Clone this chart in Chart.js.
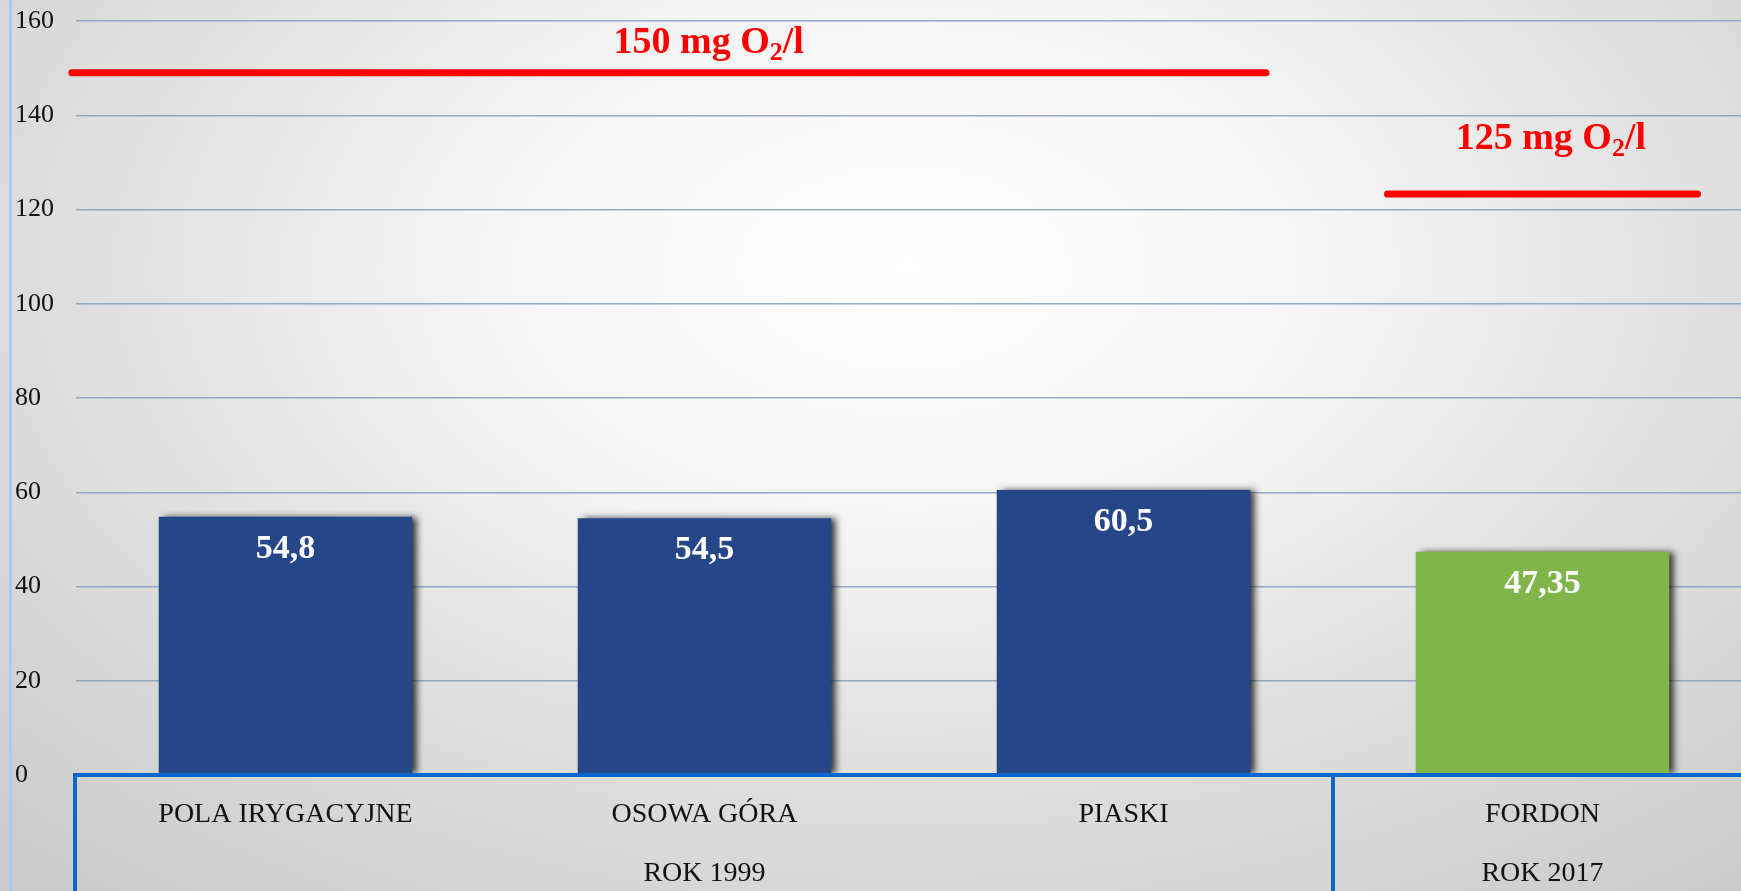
<!DOCTYPE html>
<html lang="pl">
<head>
<meta charset="UTF-8">
<title>ChZT</title>
<script src="https://cdn.jsdelivr.net/npm/chart.js"></script>
<style>
  html, body { margin: 0; padding: 0; overflow: hidden; }
  body {
    width: 1741px; height: 891px;
    background: radial-gradient(ellipse 75% 90% at 52% 30%, #ffffff 0%, #f6f6f6 30%, #e0e0e0 62%, #cbcbcb 100%);
  }
  canvas { display: block; }
</style>
</head>
<body>
<canvas id="chart" width="1752" height="891"></canvas>
<script>
// data
const categories = ['POLA IRYGACYJNE', 'OSOWA GÓRA', 'PIASKI', 'FORDON'];
const values = [54.8, 54.5, 60.5, 47.35];
const barColors = ['#25478a', '#25478a', '#25478a', '#80b54a'];
const groups = ['ROK 1999', 'ROK 2017'];
const groupSpans = [[0, 2], [3, 3]];
const limitLevels = [149, 123.3];
const limitTexts = ['150 mg O', '125 mg O'];
const yTicks = [0, 20, 40, 60, 80, 100, 120, 140, 160];

// where the red lines and their captions sit (category index units / axis values)
const limitSpans = [[-0.51, 2.34], [2.63, 3.37]];
const limitCaptions = [[1.01, 153.2], [3.02, 132.8]];

const serif = '"Liberation Serif", "DejaVu Serif", serif';

function fmt(v) { return String(v).replace('.', ','); }

const extras = {
  id: 'extras',
  beforeDatasetsDraw(chart) {
    const ctx = chart.ctx;
    ctx.save();
    ctx.shadowColor = 'rgba(0,0,0,0.8)';
    ctx.shadowBlur = 7;
    ctx.shadowOffsetX = 5;
    ctx.shadowOffsetY = 0;
  },
  afterDatasetsDraw(chart) {
    const ctx = chart.ctx;
    ctx.restore();
    const x = chart.scales.x, y = chart.scales.y;
    const area = chart.chartArea;

    // value labels inside bars
    const meta = chart.getDatasetMeta(0);
    ctx.save();
    ctx.fillStyle = '#ffffff';
    ctx.font = 'bold 34px ' + serif;
    ctx.textAlign = 'center';
    ctx.textBaseline = 'middle';
    meta.data.forEach((bar, i) => {
      ctx.fillText(fmt(values[i]), bar.x, bar.y + 32);
    });
    ctx.restore();

    // category box
    ctx.save();
    ctx.strokeStyle = '#0a66cc';
    ctx.lineWidth = 4;
    ctx.beginPath();
    ctx.moveTo(area.left - 1, chart.height);
    ctx.lineTo(area.left - 1, area.bottom);
    ctx.lineTo(chart.width, area.bottom);
    const sep = (x.getPixelForValue(2) + x.getPixelForValue(3)) / 2;
    ctx.moveTo(sep, area.bottom);
    ctx.lineTo(sep, chart.height);
    ctx.stroke();

    // thin light frame at the left
    ctx.strokeStyle = '#a6cdf0';
    ctx.lineWidth = 3;
    ctx.beginPath();
    ctx.moveTo(10.5, 0);
    ctx.lineTo(10.5, chart.height);
    ctx.stroke();

    // group labels
    ctx.fillStyle = '#111111';
    ctx.font = '28px ' + serif;
    ctx.textAlign = 'center';
    ctx.textBaseline = 'middle';
    groups.forEach((g, i) => {
      const cx = (x.getPixelForValue(groupSpans[i][0]) + x.getPixelForValue(groupSpans[i][1])) / 2;
      ctx.fillText(g, cx, 874);
    });

    // red limit lines
    ctx.strokeStyle = '#ff0000';
    ctx.lineWidth = 7;
    ctx.lineCap = 'round';
    limitLevels.forEach((lv, i) => {
      const py = y.getPixelForValue(lv);
      ctx.beginPath();
      ctx.moveTo(x.getPixelForValue(limitSpans[i][0]), py);
      ctx.lineTo(x.getPixelForValue(limitSpans[i][1]), py);
      ctx.stroke();
    });

    // captions with subscript
    ctx.fillStyle = '#ff0000';
    ctx.textBaseline = 'alphabetic';
    ctx.textAlign = 'left';
    limitTexts.forEach((t, i) => {
      const big = 'bold 38px ' + serif, small = 'bold 26px ' + serif;
      ctx.font = big;
      const w1 = ctx.measureText(t).width;
      const w3 = ctx.measureText('/l').width;
      ctx.font = small;
      const w2 = ctx.measureText('2').width;
      const total = w1 + w2 + w3;
      let px = x.getPixelForValue(limitCaptions[i][0]) - total / 2;
      const py = y.getPixelForValue(limitCaptions[i][1]);
      ctx.font = big;
      ctx.fillText(t, px, py);
      px += w1;
      ctx.font = small;
      ctx.fillText('2', px, py + 7);
      px += w2;
      ctx.font = big;
      ctx.fillText('/l', px, py);
    });
    ctx.restore();
  }
};

new Chart(document.getElementById('chart'), {
  type: 'bar',
  data: {
    labels: categories,
    datasets: [{
      data: values,
      backgroundColor: barColors,
      borderWidth: 0,
      barPercentage: 0.605,
      categoryPercentage: 1
    }]
  },
  options: {
    responsive: false,
    animation: false,
    devicePixelRatio: 1,
    layout: { padding: { left: 15, top: 21, right: 0, bottom: 0 } },
    plugins: { legend: { display: false }, tooltip: { enabled: false } },
    scales: {
      x: {
        grid: { display: false },
        border: { display: false },
        ticks: {
          color: '#111111',
          font: { family: serif, size: 28 },
          padding: 15,
          maxRotation: 0,
          autoSkip: false
        },
        afterFit(s) { s.height = 116; }
      },
      y: {
        min: 0,
        max: 160,
        afterBuildTicks(s) { s.ticks = yTicks.map(v => ({ value: v })); },
        grid: {
          color: ctx => ctx.tick && ctx.tick.value === 0 ? 'rgba(0,0,0,0)' : 'rgba(135,158,185,0.85)',
          lineWidth: 1.5,
          drawTicks: false
        },
        border: { display: false },
        ticks: {
          color: '#111111',
          font: { family: serif, size: 26 },
          crossAlign: 'far',
          padding: 0
        },
        afterFit(s) { s.width = 61; }
      }
    }
  },
  plugins: [extras]
});
</script>
</body>
</html>
